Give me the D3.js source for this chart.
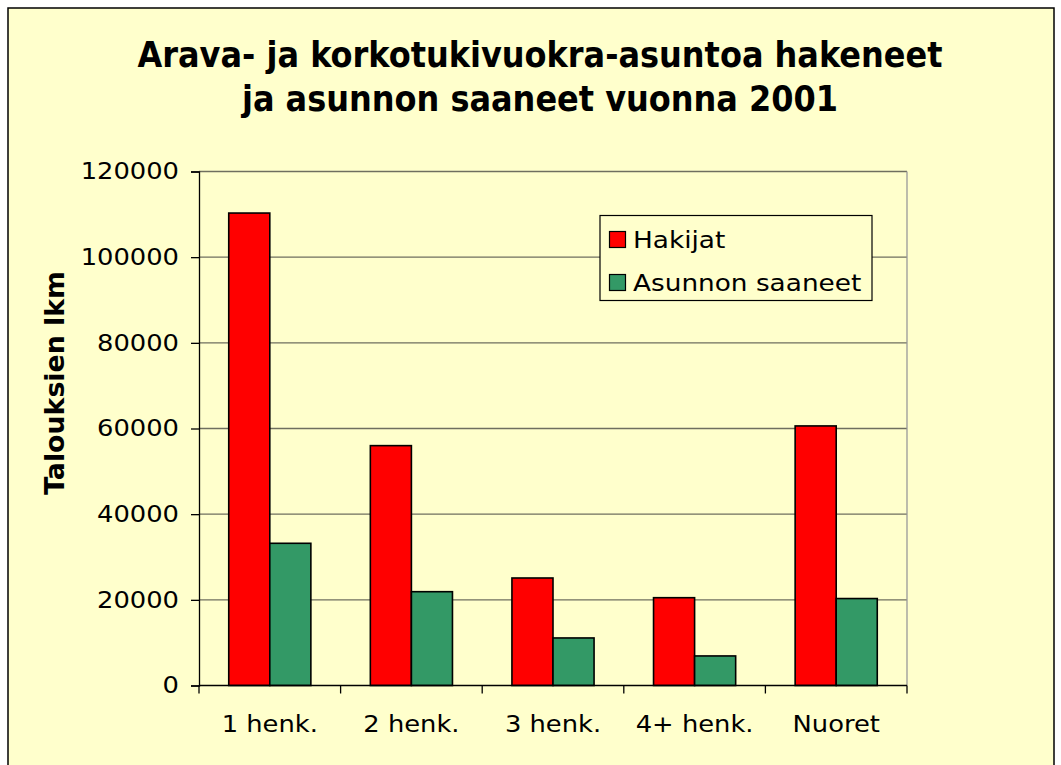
<!DOCTYPE html>
<html><head><meta charset="utf-8">
<script src="https://cdn.jsdelivr.net/npm/d3@7"></script>
<style>body{margin:0;background:#fff}svg{display:block}</style>
</head><body>
<svg id="c" width="1061" height="765"></svg>
<script>
const categories = ["1 henk.", "2 henk.", "3 henk.", "4+ henk.", "Nuoret"];
const seriesNames = ["Hakijat", "Asunnon saaneet"];
const hakijat = [110300, 56000, 25100, 20500, 60600];
const saaneet = [33200, 21900, 11100, 6900, 20300];
const yTicks = [0, 20000, 40000, 60000, 80000, 100000, 120000];
const titleLines = ["Arava- ja korkotukivuokra-asuntoa hakeneet", "ja asunnon saaneet vuonna 2001"];
const yTitle = "Talouksien lkm";
const colors = ["#FF0000", "#339966"];

const svg = d3.select("#c");
const font = "'DejaVu Sans', Verdana, sans-serif";
function stretch(sel, k) {
  sel.each(function () {
    const w = this.getComputedTextLength();
    d3.select(this).attr("textLength", w * k).attr("lengthAdjust", "spacingAndGlyphs");
  });
}

svg.append("rect").attr("x", 8).attr("y", 8).attr("width", 1046).attr("height", 770)
  .attr("fill", "#FFFFCC").attr("stroke", "#000").attr("stroke-width", 1.5);

const L = 199, R = 907, T = 171.5, B = 685.5;
const x = d3.scaleBand().domain(categories).range([L, R]).paddingInner(0.42).paddingOuter(0.21);
const x1 = d3.scaleBand().domain(seriesNames).range([0, x.bandwidth()]);
const y = d3.scaleLinear().domain([0, 120000]).range([B, T]);

// gridlines
svg.append("g").selectAll("line").data(yTicks.filter(d => d > 0)).join("line")
  .attr("x1", L).attr("x2", R).attr("y1", d => y(d)).attr("y2", d => y(d))
  .attr("stroke", "#6f6f5f").attr("stroke-width", 1.3);
svg.append("line").attr("x1", R).attr("x2", R).attr("y1", T).attr("y2", B)
  .attr("stroke", "#999").attr("stroke-width", 1.3);

// bars
const data = categories.map((c, i) => ({c, vals: [hakijat[i], saaneet[i]]}));
const g = svg.append("g").selectAll("g").data(data).join("g")
  .attr("transform", d => `translate(${x(d.c)},0)`);
g.selectAll("rect").data(d => d.vals.map((v, j) => ({v, s: seriesNames[j], j}))).join("rect")
  .attr("x", d => x1(d.s)).attr("width", x1.bandwidth())
  .attr("y", d => y(d.v)).attr("height", d => y(0) - y(d.v))
  .attr("fill", d => colors[d.j]).attr("stroke", "#000").attr("stroke-width", 1.6);

// axes
const yAxis = d3.axisLeft(y).tickValues(yTicks).tickSize(8).tickPadding(12).tickFormat(d3.format("d"));
const ya = svg.append("g").attr("transform", `translate(${L},0)`).call(yAxis);
ya.select(".domain").attr("stroke", "#000").attr("stroke-width", 1.3);
ya.selectAll(".tick line").attr("stroke", "#000").attr("stroke-width", 1.3);
ya.selectAll("text").attr("font-family", font).attr("font-size", 23).attr("fill", "#000").call(stretch, 1.12);

const boundaries = d3.range(categories.length + 1).map(i => L + i * (R - L) / categories.length);
svg.append("line").attr("x1", L).attr("x2", R).attr("y1", B).attr("y2", B).attr("stroke", "#000").attr("stroke-width", 1.3);
svg.append("g").selectAll("line").data(boundaries).join("line")
  .attr("x1", d => d).attr("x2", d => d).attr("y1", B).attr("y2", B + 8).attr("stroke", "#000").attr("stroke-width", 1.3);
const xAxis = d3.axisBottom(x).tickSize(0).tickPadding(30);
const xa = svg.append("g").attr("transform", `translate(0,${B})`).call(xAxis);
xa.select(".domain").remove();
xa.selectAll("text").attr("font-family", font).attr("font-size", 23).attr("fill", "#000").call(stretch, 1.12);

// title
const tt = svg.append("g").selectAll("text").data(titleLines).join("text")
  .attr("x", 540).attr("y", (d, i) => 67 + i * 44).attr("text-anchor", "middle")
  .attr("font-family", font).attr("font-weight", "bold").attr("font-size", 35).text(d => d);
const tk = 805 / tt.node().getComputedTextLength();
tt.call(stretch, tk);

// y title
svg.append("text").attr("transform", "translate(64,383) rotate(-90)").attr("text-anchor", "middle")
  .attr("font-family", font).attr("font-weight", "bold").attr("font-size", 26).text(yTitle)
  .call(stretch, 1.03);

// legend
const lg = svg.append("g");
lg.append("rect").attr("x", 600).attr("y", 215.5).attr("width", 272).attr("height", 85)
  .attr("fill", "#FFFFCC").attr("stroke", "#000").attr("stroke-width", 1.2);
const li = lg.selectAll("g").data(seriesNames).join("g")
  .attr("transform", (d, i) => `translate(0,${i * 43})`);
li.append("rect").attr("x", 609.5).attr("y", 231.5).attr("width", 16).attr("height", 16)
  .attr("fill", (d, i) => colors[i]).attr("stroke", "#000").attr("stroke-width", 1.2);
li.append("text").attr("x", 633).attr("y", 248).attr("font-family", font).attr("font-size", 23.5)
  .text(d => d).call(stretch, 1.12);
</script>
</body></html>
